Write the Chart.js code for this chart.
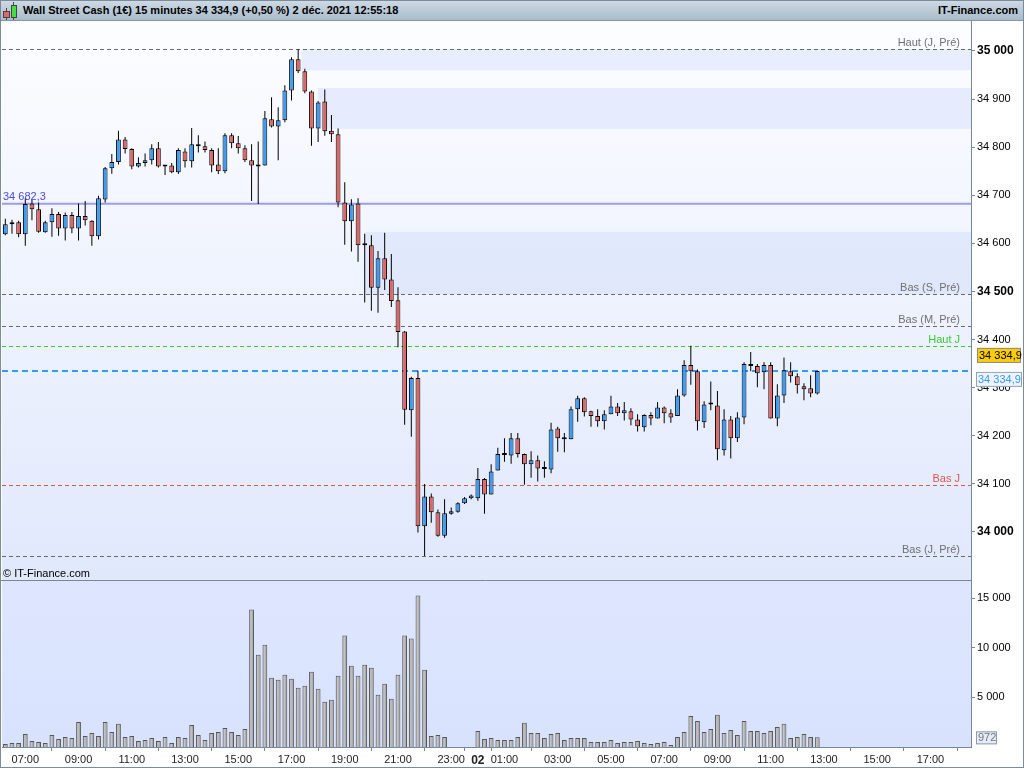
<!DOCTYPE html>
<html>
<head>
<meta charset="utf-8">
<script src="https://cdn.jsdelivr.net/npm/chart.js@4.4.1/dist/chart.umd.min.js"></script>
<style>
  html, body { margin: 0; padding: 0; background: #fff; }
  #wrap { position: relative; width: 1024px; height: 768px; overflow: hidden; font-family: "Liberation Sans", Arial, sans-serif; }
  #title { position: absolute; left: 0; top: 0; width: 1024px; height: 21px; box-sizing: border-box;
           background: linear-gradient(#cfdbe5, #a9bbca); border-bottom: 1px solid #8595a3; }
  #title .t { position: absolute; left: 23px; top: 4px; font-size: 11px; font-weight: bold; color: #000; white-space: nowrap; }
  #title .site { position: absolute; right: 6px; top: 4px; font-size: 11px; font-weight: bold; color: #000; }
  .ico { position: absolute; border: 1px solid #444; box-sizing: border-box; }
  .ico.r { left: 3px; top: 11px; width: 7px; height: 7px; background: #e06868; }
  .ico.g { left: 11px; top: 5px; width: 6px; height: 13px; background: #44dd44; }
  .wick { position: absolute; width: 1px; background: #444; }
  #main { position: absolute; left: 0; top: 20px; }
  #vol { position: absolute; left: 0; top: 580px; }
  #copy { position: absolute; left: 3px; top: 567px; font-size: 11px; color: #000; }
  #frame { position: absolute; left: 0; top: 0; width: 1024px; height: 768px; box-sizing: border-box;
           border: 1px solid #7b8b99; pointer-events: none; }
</style>
</head>
<body>
<div id="wrap">
  <canvas id="main" width="1024" height="560"></canvas>
  <canvas id="vol" width="1024" height="188"></canvas>
  <div id="title">
    <div class="wick" style="left:6px;top:8px;height:12px"></div>
    <div class="wick" style="left:13px;top:2px;height:18px"></div>
    <div class="ico r"></div><div class="ico g"></div>
    <span class="t">Wall Street Cash (1€) 15 minutes 34 334,9 (+0,50 %) 2 déc. 2021 12:55:18</span>
    <span class="site">IT-Finance.com</span>
  </div>
  <div id="copy">© IT-Finance.com</div>
  <div id="frame"></div>
</div>
<script>
// bougies 15 min, la premiere commence a 06:15 (jour 1)
const opens = [34619, 34640, 34644, 34619, 34683, 34671, 34623, 34644, 34661, 34631, 34659, 34631, 34657, 34647, 34615, 34691, 34756, 34769, 34816, 34796,
  34760, 34767, 34773, 34798, 34761, 34762, 34748, 34791, 34771, 34806, 34802, 34794, 34764, 34750, 34825, 34808, 34798, 34773, 34761, 34762,
  34858, 34843, 34856, 34918, 34983, 34958, 34916, 34839, 34895, 34834, 34827, 34685, 34646, 34683, 34597, 34596, 34508, 34569, 34525, 34482,
  34417, 34253, 34320, 34012, 34074, 34041, 33992, 34038, 34042, 34060, 34070, 34070, 34110, 34078, 34128, 34161, 34159, 34195, 34162, 34141,
  34149, 34132, 34130, 34215, 34194, 34193, 34255, 34278, 34251, 34241, 34230, 34245, 34261, 34247, 34251, 34234, 34218, 34243, 34236, 34259,
  34247, 34241, 34284, 34347, 34334, 34228, 34266, 34263, 34170, 34234, 34195, 34238, 34349, 34345, 34332, 34347, 34236, 34284, 34334, 34324,
  34303, 34299, 34288];
const highs = [34651, 34649, 34647, 34694, 34692, 34685, 34647, 34673, 34665, 34664, 34665, 34683, 34688, 34648, 34699, 34759, 34786, 34834, 34821, 34798,
  34779, 34787, 34806, 34811, 34763, 34767, 34798, 34798, 34840, 34825, 34812, 34798, 34798, 34829, 34829, 34823, 34804, 34806, 34812, 34875,
  34904, 34883, 34929, 34987, 35004, 34963, 34918, 34896, 34920, 34867, 34839, 34727, 34692, 34694, 34620, 34617, 34584, 34622, 34578, 34509,
  34418, 34323, 34335, 34100, 34080, 34047, 34068, 34051, 34062, 34073, 34078, 34133, 34112, 34141, 34175, 34195, 34206, 34206, 34163, 34168,
  34159, 34147, 34227, 34219, 34206, 34261, 34283, 34280, 34252, 34255, 34253, 34283, 34268, 34270, 34257, 34245, 34245, 34249, 34270, 34261,
  34255, 34297, 34357, 34387, 34338, 34272, 34313, 34293, 34255, 34241, 34249, 34353, 34374, 34349, 34353, 34353, 34307, 34363, 34353, 34330,
  34309, 34326, 34335];
const lows = [34617, 34620, 34613, 34595, 34648, 34622, 34622, 34614, 34616, 34606, 34621, 34606, 34637, 34595, 34608, 34685, 34745, 34764, 34787, 34754,
  34758, 34760, 34764, 34758, 34742, 34746, 34744, 34758, 34758, 34789, 34789, 34748, 34744, 34746, 34798, 34787, 34769, 34688, 34682, 34762,
  34841, 34773, 34852, 34897, 34954, 34912, 34803, 34811, 34824, 34811, 34675, 34597, 34583, 34562, 34477, 34460, 34456, 34503, 34468, 34384,
  34223, 34198, 33999, 33950, 34019, 33990, 33988, 34036, 34040, 34058, 34068, 34065, 34038, 34078, 34128, 34146, 34142, 34155, 34098, 34113,
  34105, 34113, 34122, 34167, 34166, 34193, 34229, 34240, 34219, 34219, 34213, 34245, 34241, 34232, 34222, 34209, 34209, 34222, 34236, 34226,
  34227, 34241, 34281, 34306, 34211, 34216, 34253, 34149, 34159, 34153, 34187, 34224, 34334, 34301, 34297, 34236, 34220, 34268, 34311, 34288,
  34274, 34280, 34286];
const closes = [34640, 34642, 34619, 34682, 34671, 34624, 34644, 34661, 34631, 34659, 34631, 34657, 34648, 34615, 34694, 34756, 34769, 34816, 34796, 34760,
  34767, 34773, 34798, 34760, 34760, 34748, 34794, 34771, 34806, 34802, 34794, 34762, 34750, 34825, 34808, 34798, 34773, 34762, 34760, 34860,
  34843, 34856, 34918, 34983, 34958, 34916, 34839, 34893, 34833, 34827, 34685, 34646, 34681, 34596, 34596, 34508, 34569, 34525, 34480, 34416,
  34254, 34320, 34012, 34074, 34041, 33992, 34039, 34043, 34060, 34070, 34076, 34110, 34078, 34126, 34162, 34160, 34195, 34162, 34141, 34149,
  34132, 34131, 34213, 34195, 34193, 34255, 34278, 34249, 34241, 34230, 34245, 34261, 34247, 34253, 34234, 34220, 34243, 34236, 34259, 34247,
  34238, 34284, 34347, 34334, 34230, 34265, 34265, 34172, 34234, 34195, 34238, 34349, 34345, 34330, 34347, 34236, 34284, 34336, 34324, 34305,
  34297, 34288, 34334.9];
const volumes = [300, 400, 400, 1310, 610, 510, 400, 1210, 810, 1010, 910, 2530, 1110, 1420, 1110, 2530, 1520, 2330, 1010, 1110,
  610, 710, 910, 610, 1010, 400, 1010, 910, 2220, 1210, 710, 1420, 1520, 1920, 1520, 1210, 1820, 13850, 9300, 10310,
  6980, 6770, 7280, 6880, 5970, 6170, 7580, 5860, 4550, 4750, 7180, 11220, 8190, 7180, 8290, 7990, 5260, 6370, 4850, 7280,
  11220, 10920, 15270, 7790, 1110, 1210, 1010, null, null, null, null, 1620, 810, 910, 710, 710, 710, 1010, 2430, 1420,
  1420, 910, 1310, 1420, 710, 910, 910, 910, 510, 510, 510, 710, 400, 510, 510, 610, 400, 300, 400, 510,
  200, 1010, 1520, 3130, 2630, 1520, 1820, 3240, 1420, 1720, 1210, 2630, 1620, 1620, 1420, 1620, 2020, 2330, 910, 1010,
  1310, 1010, 972];

const priceTicks = [34000, 34100, 34200, 34300, 34400, 34500, 34600, 34700, 34800, 34900, 35000];
const volumeTicks = [5000, 10000, 15000];
const timeTickSlots = [3, 11, 19, 27, 35, 43, 51, 59, 67, 71, 75, 83, 91, 99, 107, 115, 123, 131, 139];
const timeTickLabels = ['07:00', '09:00', '11:00', '13:00', '15:00', '17:00', '19:00', '21:00', '23:00', '02',
  '01:00', '03:00', '05:00', '07:00', '09:00', '11:00', '13:00', '15:00', '17:00'];

const levelValues = [35004, 34494, 34428, 34387, 34098, 33950];
const levelNames = ['Haut (J, Pré)', 'Bas (S, Pré)', 'Bas (M, Pré)', 'Haut J', 'Bas J', 'Bas (J, Pré)'];
const pivotValue = 34682.3;
const lastPrice = 34334.9;
const lastVolume = 972;

// zones non revisitees : debut (bougie), haut, bas
const zoneFrom = [44.5, 46.95, 54];
const zoneHigh = [35004, 34923, 34624];
const zoneLow = [34960, 34838, 34494];

const slots = opens.map((_, i) => i);
const X_MIN = -0.5, X_MAX = 145.1;
const UP = '#3a9cf5', DOWN = '#e06666', AXIS = '#778899';
const levelColors = { 'Haut J': '#33cc33', 'Bas J': '#dd5555' };

Chart.defaults.font.family = '"Liberation Sans", Arial, sans-serif';
Chart.defaults.font.size = 11;
Chart.defaults.color = '#000';

// 34682.3 -> "34 682,3"
function fr(v, dec = 0) {
  const p = v.toFixed(dec).split('.');
  return p[0].replace(/\B(?=(\d{3})+(?!\d))/g, ' ') + (p[1] ? ',' + p[1] : '');
}

function fixAxis(width) {
  return s => { s.width = width; s.paddingTop = 0; s.paddingBottom = 0; };
}

const panelBg = {
  id: 'panelBg',
  beforeDraw(chart, args, o) {
    const { ctx, chartArea: a } = chart;
    const g = ctx.createLinearGradient(0, a.top, 0, a.bottom);
    g.addColorStop(0, o.top);
    g.addColorStop(1, o.bottom);
    ctx.save();
    ctx.fillStyle = g;
    ctx.fillRect(a.left, a.top, a.right - a.left, a.bottom - a.top);
    if (o.topLine) {
      ctx.strokeStyle = AXIS;
      ctx.beginPath(); ctx.moveTo(0, a.top + 0.5); ctx.lineTo(a.right, a.top + 0.5); ctx.stroke();
    }
    ctx.restore();
  }
};

function hline(ctx, a, y, color, width, dash) {
  ctx.strokeStyle = color;
  ctx.lineWidth = width;
  ctx.setLineDash(dash);
  ctx.beginPath();
  ctx.moveTo(a.left, y);
  ctx.lineTo(a.right, y);
  ctx.stroke();
}

const levels = {
  id: 'levels',
  beforeDatasetsDraw(chart) {
    const { ctx, chartArea: a, scales: { x, y } } = chart;
    ctx.save();
    ctx.fillStyle = 'rgba(190,205,250,0.3)';
    zoneFrom.forEach((s, i) => {
      const x0 = x.getPixelForValue(s);
      const y0 = y.getPixelForValue(zoneHigh[i]);
      const y1 = y.getPixelForValue(zoneLow[i]);
      ctx.fillRect(x0, y0, a.right - x0, y1 - y0);
    });
    levelValues.forEach((v, i) => {
      const py = Math.round(y.getPixelForValue(v)) + 0.5;
      hline(ctx, a, py, levelColors[levelNames[i]] || '#6a6a6a', 1, [4, 3]);
    });
    hline(ctx, a, y.getPixelForValue(pivotValue), '#9c9cee', 2, []);
    hline(ctx, a, y.getPixelForValue(lastPrice), '#3399ff', 2, [6, 4]);
    ctx.restore();
  },
  afterDraw(chart) {
    const { ctx, chartArea: a, scales: { y } } = chart;
    ctx.save();
    ctx.font = '11px "Liberation Sans", Arial, sans-serif';
    ctx.textAlign = 'right';
    ctx.textBaseline = 'alphabetic';
    levelValues.forEach((v, i) => {
      ctx.fillStyle = levelColors[levelNames[i]] || '#707070';
      ctx.fillText(levelNames[i], a.right - 11, y.getPixelForValue(v) - 3);
    });
    ctx.textAlign = 'left';
    ctx.fillStyle = '#4a4ae0';
    ctx.fillText(fr(pivotValue, 1), a.left + 1, y.getPixelForValue(pivotValue) - 4);

    // etiquettes du dernier cours sur l'axe
    const ly = y.getPixelForValue(lastPrice);
    ctx.textBaseline = 'middle';
    ctx.fillStyle = '#ffcc00';
    ctx.fillRect(a.right + 6, ly - 23, 44, 15);
    ctx.strokeStyle = '#8a8a8a'; ctx.lineWidth = 1;
    ctx.strokeRect(a.right + 6.5, ly - 22.5, 43, 14);
    ctx.fillStyle = '#000';
    ctx.fillText(fr(lastPrice, 1), a.right + 8, ly - 15);
    ctx.fillStyle = '#eef3fb';
    ctx.fillRect(a.right + 5, ly + 1, 46, 15);
    ctx.strokeStyle = '#8fa3b8';
    ctx.strokeRect(a.right + 5.5, ly + 1.5, 45, 14);
    ctx.fillStyle = '#3399ff';
    ctx.fillText(fr(lastPrice, 1), a.right + 7, ly + 9);
    ctx.restore();
  }
};

new Chart(document.getElementById('main'), {
  type: 'bar',
  data: {
    datasets: [
      {
        label: 'Corps',
        data: slots.map(i => ({ x: i, y: [opens[i], closes[i]] })),
        backgroundColor: slots.map(i => closes[i] >= opens[i] ? UP : DOWN),
        borderColor: '#000',
        borderWidth: 1,
        borderSkipped: false,
        maxBarThickness: 5,
        minBarLength: 2,
        grouped: false,
        order: 0
      },
      {
        label: 'Mèches',
        data: slots.map(i => ({ x: i, y: [lows[i], highs[i]] })),
        backgroundColor: '#000',
        borderWidth: 0,
        maxBarThickness: 1,
        grouped: false,
        order: 1
      }
    ]
  },
  options: {
    responsive: false,
    animation: false,
    layout: { padding: { left: 2, top: 0, right: 0, bottom: 0 } },
    scales: {
      x: { type: 'linear', min: X_MIN, max: X_MAX, offset: false, display: false },
      y: {
        position: 'right',
        min: 33900.2,
        max: 35064.4,
        afterBuildTicks: s => { s.ticks = priceTicks.map(v => ({ value: v })); },
        afterFit: fixAxis(53),
        ticks: {
          padding: 2,
          color: '#000',
          callback: v => fr(v),
          font: c => (c.tick && c.tick.value % 500 === 0) ? { size: 12, weight: 'bold' } : { size: 11 }
        },
        grid: { drawOnChartArea: false, drawTicks: true, tickLength: 4, color: AXIS },
        border: { display: true, color: AXIS }
      }
    },
    plugins: {
      legend: { display: false },
      tooltip: { enabled: false },
      panelBg: { top: '#fcfdff', bottom: '#e0e8fc' }
    }
  },
  plugins: [panelBg, levels]
});

const volumeTag = {
  id: 'volumeTag',
  afterDraw(chart) {
    const { ctx, chartArea: a, scales: { y } } = chart;
    const py = y.getPixelForValue(lastVolume);
    ctx.save();
    ctx.fillStyle = '#e6ecf6';
    ctx.fillRect(a.right + 5, py - 6, 21, 13);
    ctx.strokeStyle = '#8c9caa';
    ctx.lineWidth = 1;
    ctx.strokeRect(a.right + 5.5, py - 5.5, 20, 12);
    ctx.fillStyle = '#777';
    ctx.font = '11px "Liberation Sans", Arial, sans-serif';
    ctx.textBaseline = 'middle';
    ctx.fillText(String(lastVolume), a.right + 7, py + 1);
    ctx.restore();
  }
};

new Chart(document.getElementById('vol'), {
  type: 'bar',
  data: {
    datasets: [{
      label: 'Volume',
      data: slots.map(i => ({ x: i, y: volumes[i] })),
      backgroundColor: c => {
        const ch = c.chart;
        if (!ch.chartArea) return '#9a9a9a';
        const px = ch.scales.x.getPixelForValue(c.dataIndex);
        const g = ch.ctx.createLinearGradient(px - 2.5, 0, px + 2.5, 0);
        g.addColorStop(0, '#8a8a8a');
        g.addColorStop(0.4, '#c6c6c6');
        g.addColorStop(1, '#8a8a8a');
        return g;
      },
      borderColor: '#555',
      borderWidth: 1,
      borderSkipped: 'start',
      maxBarThickness: 5,
      grouped: false
    }]
  },
  options: {
    responsive: false,
    animation: false,
    layout: { padding: { left: 2, top: 0, right: 0, bottom: 0 } },
    scales: {
      x: {
        type: 'linear',
        min: X_MIN,
        max: X_MAX,
        offset: false,
        afterBuildTicks: s => { s.ticks = timeTickSlots.map(v => ({ value: v })); },
        afterFit: s => { s.height = 21; s.paddingLeft = 0; s.paddingRight = 0; },
        ticks: {
          autoSkip: false,
          maxRotation: 0,
          padding: 2,
          color: '#222',
          callback: (v, i) => timeTickLabels[i],
          font: c => timeTickLabels[c.index] === '02' ? { size: 12, weight: 'bold' } : { size: 11 }
        },
        grid: { drawOnChartArea: false, drawTicks: true, tickLength: 4, color: AXIS },
        border: { display: true, color: AXIS }
      },
      y: {
        position: 'right',
        min: 0,
        max: 16820,
        afterBuildTicks: s => { s.ticks = volumeTicks.map(v => ({ value: v })); },
        afterFit: fixAxis(53),
        ticks: { padding: 2, color: '#000', callback: v => fr(v) },
        grid: { drawOnChartArea: false, drawTicks: true, tickLength: 4, color: AXIS },
        border: { display: true, color: AXIS }
      }
    },
    plugins: {
      legend: { display: false },
      tooltip: { enabled: false },
      panelBg: { top: '#dee6ff', bottom: '#d9e2fd', topLine: true }
    }
  },
  plugins: [panelBg, volumeTag]
});
</script>
</body>
</html>
